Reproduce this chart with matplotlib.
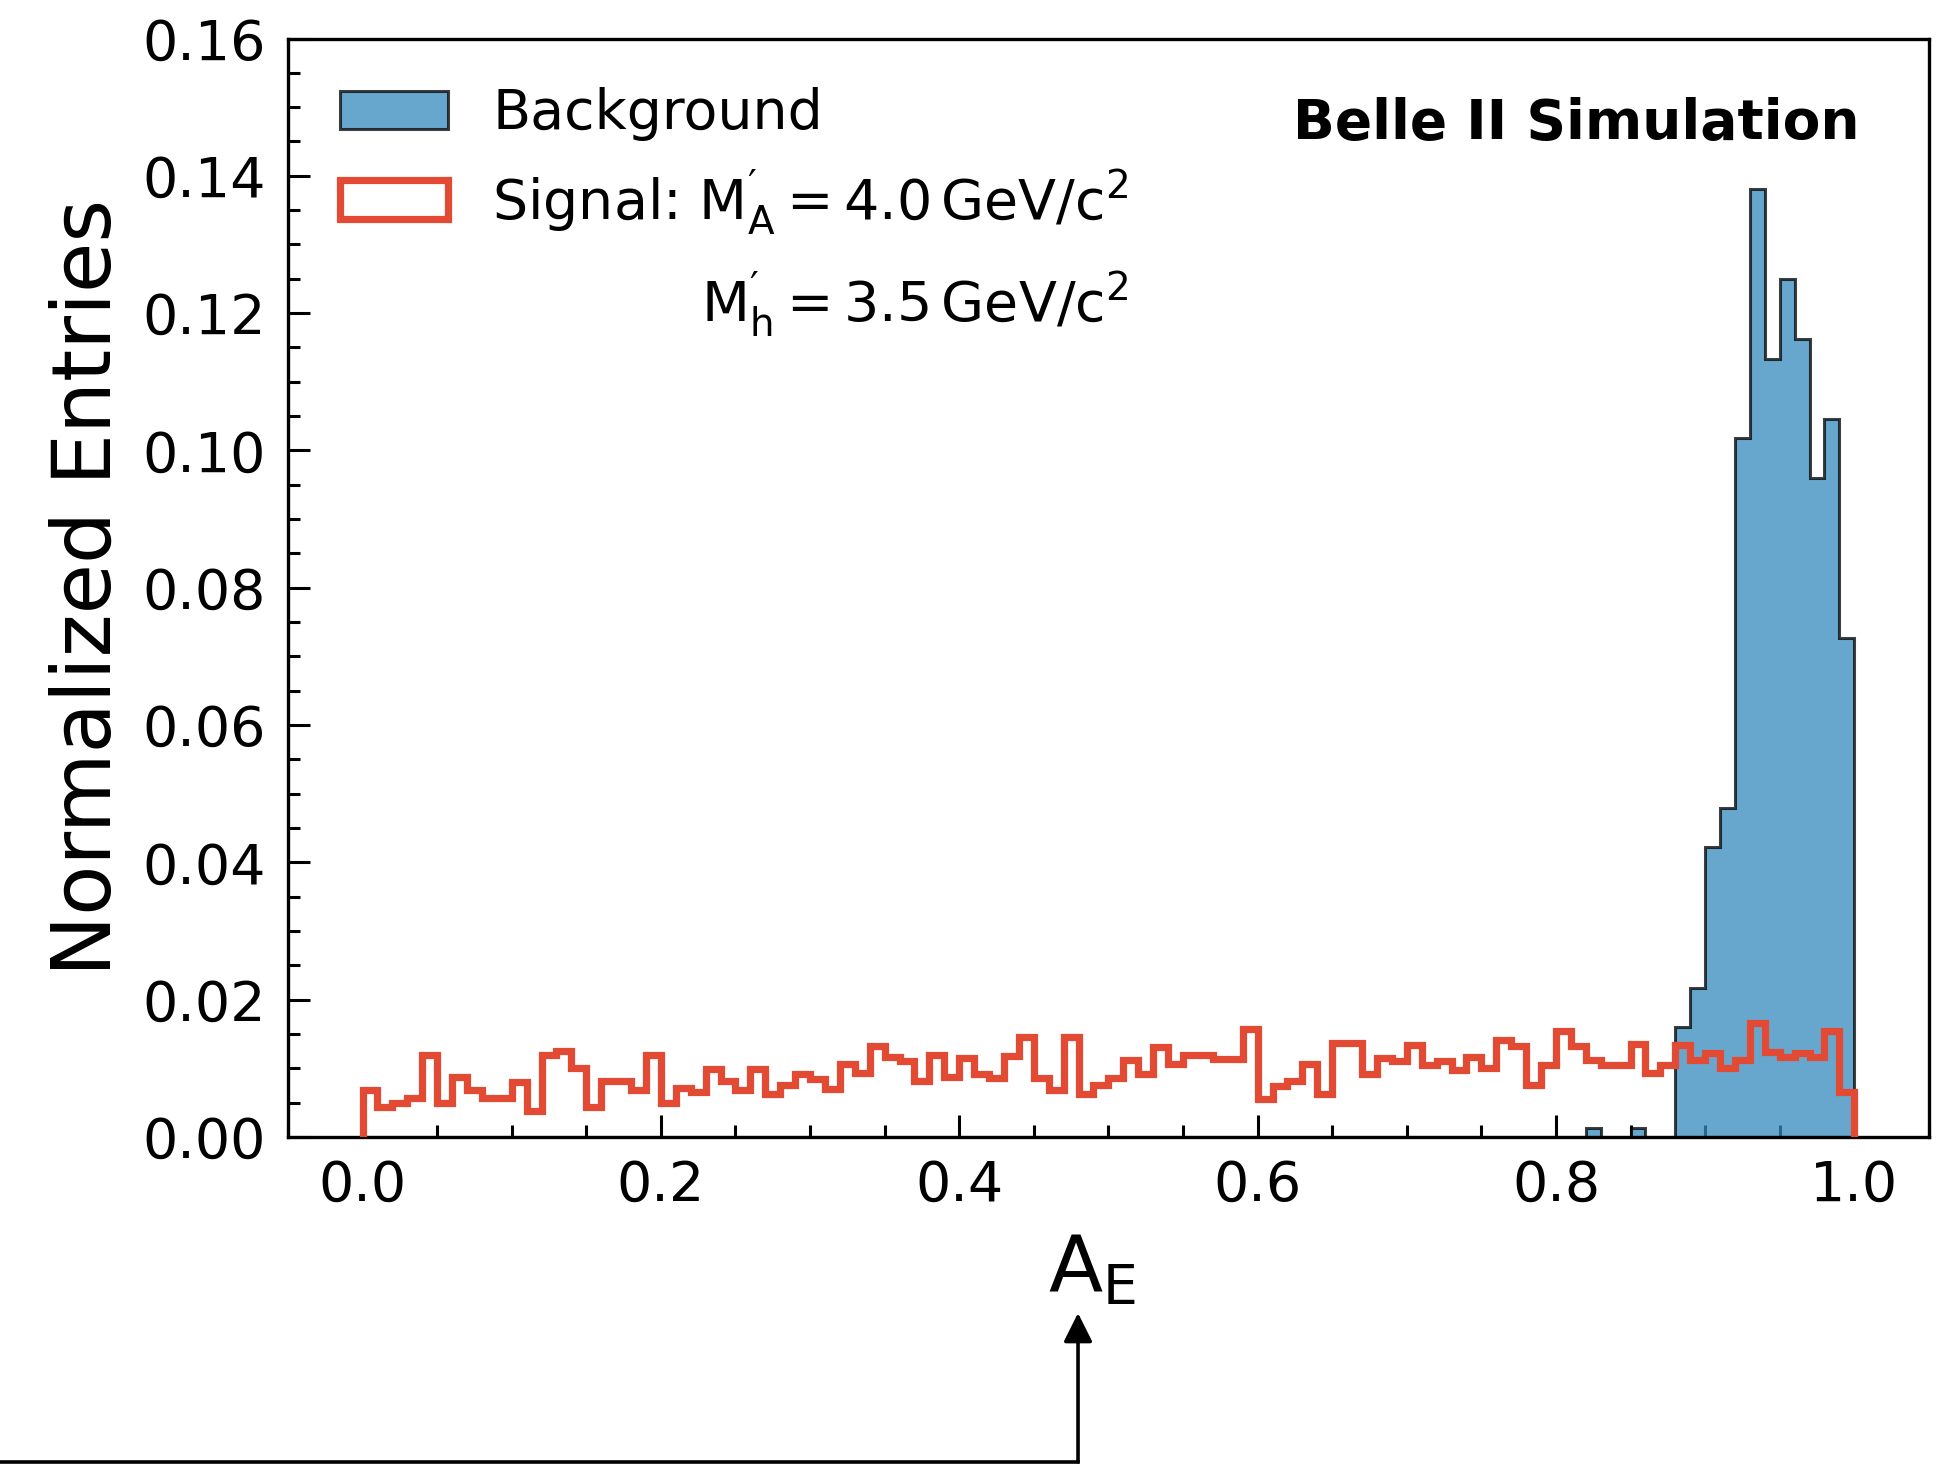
import numpy as np
import matplotlib
matplotlib.use('Agg')
import matplotlib.pyplot as plt
from matplotlib.ticker import MultipleLocator
from matplotlib.patches import FancyArrowPatch

plt.rcParams['font.family'] = ['DejaVu Sans']
plt.rcParams['mathtext.default'] = 'regular'

# 100 bins of width 0.01 on [0, 1]
edges = np.linspace(0.0, 1.0, 101)
centers = 0.5 * (edges[:-1] + edges[1:])

signal = [
    0.0068, 0.0044, 0.0050, 0.0057, 0.0119, 0.0050, 0.0087, 0.0068, 0.0056, 0.0056,
    0.0080, 0.0038, 0.0119, 0.0125, 0.0100, 0.0044, 0.0082, 0.0082, 0.0068, 0.0119,
    0.0050, 0.0072, 0.0065, 0.0099, 0.0082, 0.0068, 0.0099, 0.0063, 0.0076, 0.0092,
    0.0085, 0.0070, 0.0106, 0.0093, 0.0132, 0.0117, 0.0110, 0.0082, 0.0119, 0.0088,
    0.0115, 0.0092, 0.0086, 0.0118, 0.0145, 0.0086, 0.0068, 0.0145, 0.0062, 0.0075,
    0.0086, 0.0112, 0.0092, 0.0131, 0.0106, 0.0119, 0.0119, 0.0113, 0.0113, 0.0157,
    0.0055, 0.0074, 0.0081, 0.0106, 0.0063, 0.0137, 0.0137, 0.0092, 0.0115, 0.0110,
    0.0134, 0.0105, 0.0110, 0.0098, 0.0117, 0.0100, 0.0141, 0.0132, 0.0076, 0.0105,
    0.0155, 0.0132, 0.0112, 0.0105, 0.0105, 0.0136, 0.0093, 0.0105, 0.0134, 0.0112,
    0.0122, 0.0100, 0.0112, 0.0166, 0.0124, 0.0117, 0.0122, 0.0117, 0.0154, 0.0066,
]

background = [0.0] * 82 + [0.0013, 0.0, 0.0, 0.0013, 0.0, 0.0] + [
    0.0160, 0.0217, 0.0422, 0.0479, 0.1018, 0.1381,
    0.1133, 0.1250, 0.1163, 0.0960, 0.1046, 0.0727,
]

sig_label = r"Signal: $M^{\prime}_{A} = 4.0\,GeV/c^{2}$"
sig_label2 = r"$M^{\prime}_{h} = 3.5\,GeV/c^{2}$"

fig = plt.figure(figsize=(9.74, 7.32), dpi=200)
ax = fig.add_axes([0.1478, 0.2234, 0.8424, 0.7503])

ax.hist(centers, bins=edges, weights=background, histtype='stepfilled',
        facecolor='#348ABD', edgecolor='black', alpha=0.75, lw=1.1,
        label='Background', zorder=2)
ax.hist(centers, bins=edges, weights=signal, histtype='step',
        color='#E24A33', lw=2.6, label=sig_label, zorder=3)

ax.set_xlim(-0.05, 1.05)
ax.set_ylim(0, 0.16)
ax.xaxis.set_major_locator(MultipleLocator(0.2))
ax.xaxis.set_minor_locator(MultipleLocator(0.05))
ax.yaxis.set_major_locator(MultipleLocator(0.02))
ax.yaxis.set_minor_locator(MultipleLocator(0.005))
ax.tick_params(which='both', direction='in', top=False, right=False,
               labelsize=20, width=1.1)
ax.tick_params(which='major', length=8, pad=8)
ax.tick_params(which='minor', length=4.3)
for s in ax.spines.values():
    s.set_linewidth(1.2)

ax.set_xlabel(r"$A_E$", fontsize=28.5)
ax.xaxis.set_label_coords(0.49, -0.087)
ax.set_ylabel('Normalized Entries', fontsize=29.5)
ax.yaxis.set_label_coords(-0.0975, 0.5)

ax.text(0.9576, 0.922, 'Belle II Simulation', transform=ax.transAxes,
        ha='right', va='center', fontsize=19.8, fontweight='bold')

leg = ax.legend(loc='upper left', frameon=False, fontsize=20,
                handlelength=1.95, handleheight=0.7, labelspacing=0.47)
leg.set_bbox_to_anchor((0.001, 1.001), transform=ax.transAxes)

# second line of the signal label, right-aligned under the first
fig.canvas.draw()
bb = leg.get_texts()[1].get_window_extent()
ax.annotate(sig_label2, xy=(bb.x1, 0.5 * (bb.y0 + bb.y1) - 103),
            xycoords='figure pixels', ha='right', va='center', fontsize=20)

# arrow below the plot
fig.add_artist(plt.Line2D([0, 0.5534], [0.0014, 0.0014], transform=fig.transFigure,
                          color='black', lw=1.3))
fig.add_artist(FancyArrowPatch((0.5534, 0.0014), (0.5534, 0.1031), transform=fig.transFigure,
                               arrowstyle='-|>', mutation_scale=22, color='black',
                               lw=1.3, shrinkA=0, shrinkB=0))

fig.savefig('out.png', dpi=200)
